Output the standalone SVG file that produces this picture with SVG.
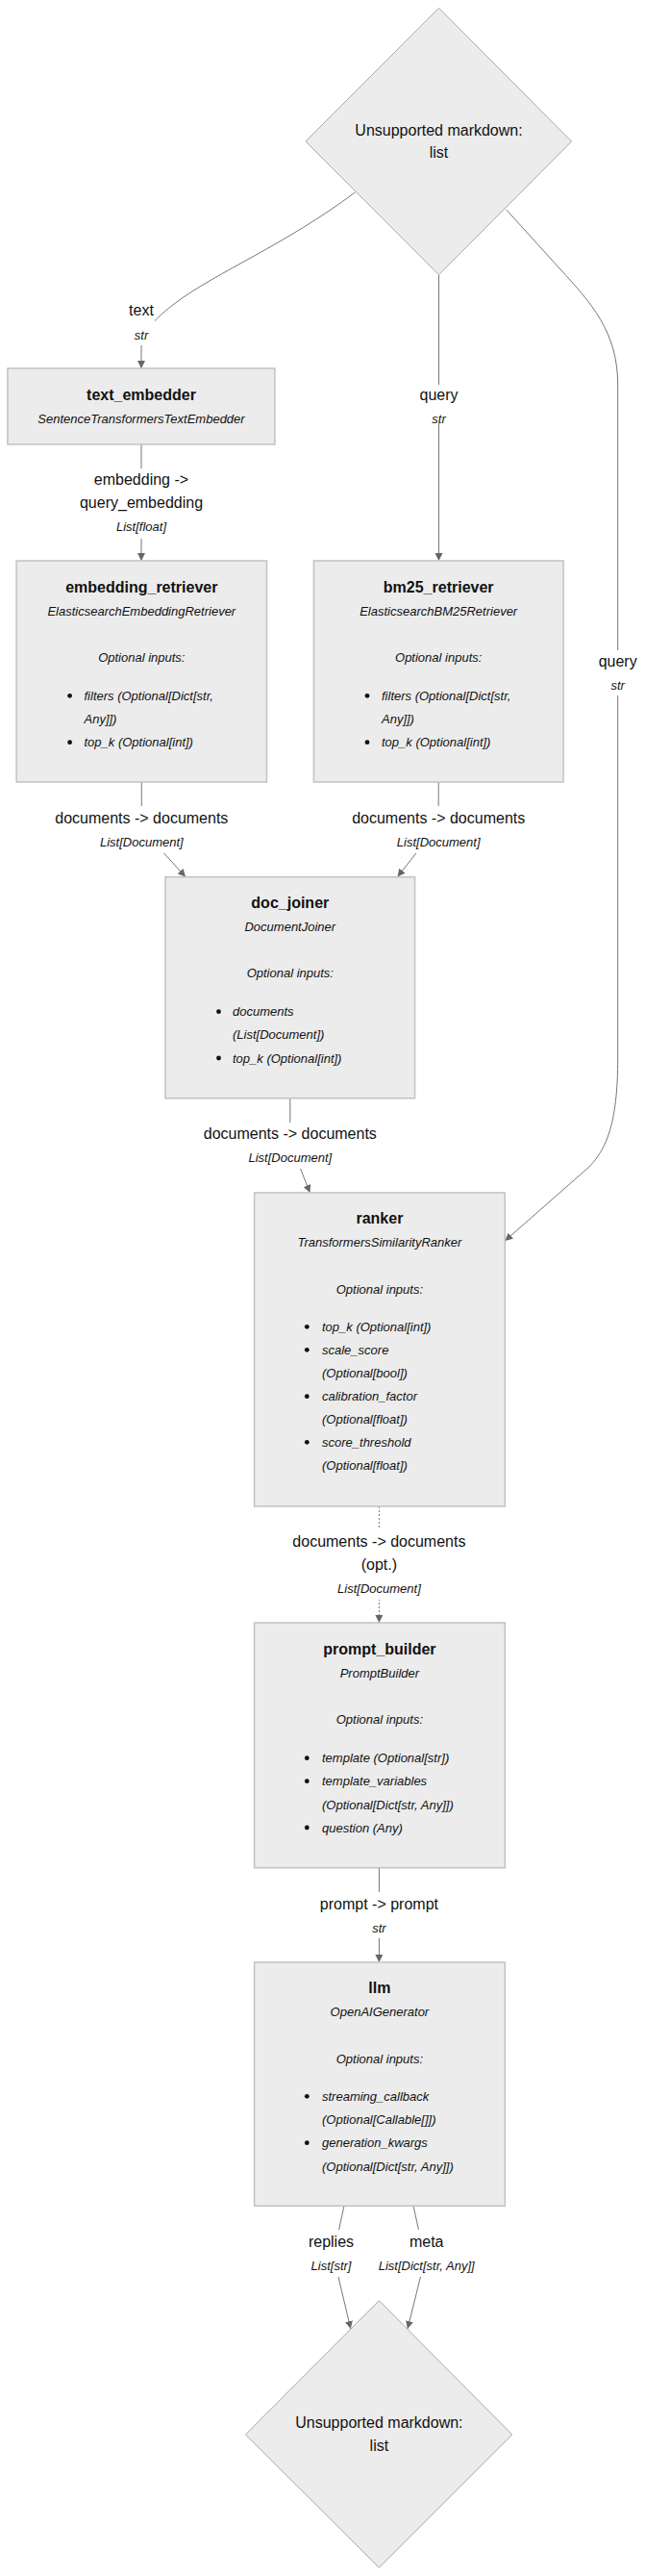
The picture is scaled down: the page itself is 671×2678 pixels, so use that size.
<svg xmlns="http://www.w3.org/2000/svg" width="671" height="2678" viewBox="0 0 671 2678">
<defs>
<style>
.node{fill:#ececec;stroke:#c2c2c2;stroke-width:1.5}
.dia{fill:#ececec;stroke:#a8a8a8;stroke-width:1}
.edge{fill:none;stroke:#777;stroke-width:1}
.dash{stroke-dasharray:2 2}
.lbg{fill:#fff;stroke:none}
text{font-family:"Liberation Sans",Arial,sans-serif;fill:#111}
.t{font-size:16px;text-anchor:middle}
.b{font-size:16px;font-weight:bold;text-anchor:middle}
.i{font-size:13px;font-style:italic;text-anchor:middle}
.il{font-size:13px;font-style:italic}
.dot{fill:#111}
</style>
<marker id="arr" viewBox="0 0 10 10" refX="10" refY="5" markerWidth="8" markerHeight="8" markerUnits="userSpaceOnUse" orient="auto">
<path d="M0,0 L10,5 L0,10 z" fill="#666"/>
</marker>
</defs>
<rect width="671" height="2678" fill="#fff"/>

<g id="connectors">
<path class="edge" d="M369.3,200 C295.8,255 226.8,282 182.4,315 C162.7,330 147,345 147,362 L147,383" marker-end="url(#arr)"/>
<path class="edge" d="M456.5,286 L456.5,583" marker-end="url(#arr)"/>
<path class="edge" d="M526.7,218 L583,280 C615,315 642.7,345 642.7,400 L642.7,1100 C642.7,1170 630,1195 613,1213 L525.3,1290" marker-end="url(#arr)"/>
<path class="edge" d="M147,462 L147,583" marker-end="url(#arr)"/>
<path class="edge" d="M147.3,813 L147.3,850 C147.3,870 157.8,875 170.6,887 L193,911.5" marker-end="url(#arr)"/>
<path class="edge" d="M456.2,813 L456.2,850 C456.2,870 445.7,875 432.9,887 L413.5,911.5" marker-end="url(#arr)"/>
<path class="edge" d="M301.8,1142 L301.8,1180 C301.8,1200 307.6,1205 312.6,1215 L322.4,1240" marker-end="url(#arr)"/>
<path class="edge dash" d="M394.4,1566 L394.4,1687" marker-end="url(#arr)"/>
<path class="edge" d="M394.4,1942 L394.4,2040" marker-end="url(#arr)"/>
<path class="edge" d="M358,2293 L351,2325 C349,2340 350,2360 352,2367 L364.8,2421" marker-end="url(#arr)"/>
<path class="edge" d="M430,2293 L437,2325 C439,2340 438,2360 437.5,2367 L424,2421" marker-end="url(#arr)"/>
</g>

<g id="edge-labels">
<g id="lbl-text"><rect class="lbg" x="131" y="311" width="30" height="48"/><text class="t" x="147" y="327.5">text</text><text class="i" x="147" y="352.5">str</text></g>
<g id="lbl-query1"><rect class="lbg" x="434" y="400" width="45" height="40"/><text class="t" x="456.5" y="416">query</text><text class="i" x="456.5" y="439.5">str</text></g>
<g id="lbl-query2"><rect class="lbg" x="620.7" y="676" width="44" height="47"/><text class="t" x="642.7" y="692.5">query</text><text class="i" x="642.7" y="716.5">str</text></g>
<g id="lbl-emb"><rect class="lbg" x="82" y="487" width="130" height="73"/><text class="t" x="147" y="504">embedding -&gt;</text><text class="t" x="147" y="528">query_embedding</text><text class="i" x="147" y="552">List[float]</text></g>
<g id="lbl-docs1"><rect class="lbg" x="57" y="838" width="180" height="49"/><text class="t" x="147.3" y="855.5">documents -&gt; documents</text><text class="i" x="147.3" y="880">List[Document]</text></g>
<g id="lbl-docs2"><rect class="lbg" x="366" y="838" width="180" height="49"/><text class="t" x="456.2" y="855.5">documents -&gt; documents</text><text class="i" x="456.2" y="880">List[Document]</text></g>
<g id="lbl-docs3"><rect class="lbg" x="212" y="1167" width="180" height="48"/><text class="t" x="301.8" y="1184">documents -&gt; documents</text><text class="i" x="301.8" y="1207.5">List[Document]</text></g>
<g id="lbl-docs4"><rect class="lbg" x="304" y="1590" width="181" height="73"/><text class="t" x="394.4" y="1608">documents -&gt; documents</text><text class="t" x="394.4" y="1632">(opt.)</text><text class="i" x="394.4" y="1656">List[Document]</text></g>
<g id="lbl-prompt"><rect class="lbg" x="325" y="1967" width="139" height="48"/><text class="t" x="394.4" y="1984.5">prompt -&gt; prompt</text><text class="i" x="394.4" y="2008.5">str</text></g>
<g id="lbl-replies"><rect class="lbg" x="319" y="2318" width="51" height="49"/><text class="t" x="344.5" y="2335.5">replies</text><text class="i" x="344.5" y="2360">List[str]</text></g>
<g id="lbl-meta"><rect class="lbg" x="388" y="2318" width="112" height="49"/><text class="t" x="443.7" y="2335.5">meta</text><text class="i" x="443.7" y="2360">List[Dict[str, Any]]</text></g>
</g>

<g id="input">
<polygon class="dia" points="456.5,8.3 594.6,147 456.5,285.7 318,147"/>
<text class="t" x="456.5" y="140.5">Unsupported markdown:</text>
<text class="t" x="456.5" y="164">list</text>
</g>

<g id="text_embedder">
<rect class="node" x="7.9" y="383" width="278" height="79"/>
<text class="b" x="147" y="416">text_embedder</text>
<text class="i" x="147" y="440">SentenceTransformersTextEmbedder</text>
</g>

<g id="embedding_retriever">
<rect class="node" x="17.1" y="583" width="260.4" height="230"/>
<text class="b" x="147.3" y="616">embedding_retriever</text>
<text class="i" x="147.3" y="640.3">ElasticsearchEmbeddingRetriever</text>
<text class="i" x="147.3" y="688">Optional inputs:</text>
<circle class="dot" cx="72.6" cy="723.3" r="2.4"/>
<text class="il" x="87.5" y="728">filters (Optional[Dict[str,</text>
<text class="il" x="87.5" y="752.3">Any]])</text>
<circle class="dot" cx="72.6" cy="771.7" r="2.4"/>
<text class="il" x="87.5" y="776.3">top_k (Optional[int])</text>
</g>

<g id="bm25_retriever">
<rect class="node" x="326.4" y="583" width="259.7" height="230"/>
<text class="b" x="456.2" y="616">bm25_retriever</text>
<text class="i" x="456.2" y="640.3">ElasticsearchBM25Retriever</text>
<text class="i" x="456.2" y="688">Optional inputs:</text>
<circle class="dot" cx="382" cy="723.3" r="2.4"/>
<text class="il" x="397" y="728">filters (Optional[Dict[str,</text>
<text class="il" x="397" y="752.3">Any]])</text>
<circle class="dot" cx="382" cy="771.7" r="2.4"/>
<text class="il" x="397" y="776.3">top_k (Optional[int])</text>
</g>

<g id="doc_joiner">
<rect class="node" x="172" y="911.7" width="259.6" height="230"/>
<text class="b" x="301.8" y="943.8">doc_joiner</text>
<text class="i" x="301.8" y="968">DocumentJoiner</text>
<text class="i" x="301.8" y="1016.3">Optional inputs:</text>
<circle class="dot" cx="227.5" cy="1051.7" r="2.4"/>
<text class="il" x="242" y="1056.3">documents</text>
<text class="il" x="242" y="1080.3">(List[Document])</text>
<circle class="dot" cx="227.5" cy="1100" r="2.4"/>
<text class="il" x="242" y="1104.6">top_k (Optional[int])</text>
</g>

<g id="ranker">
<rect class="node" x="264.6" y="1240" width="260.7" height="326"/>
<text class="b" x="394.9" y="1272.2">ranker</text>
<text class="i" x="394.9" y="1296.3">TransformersSimilarityRanker</text>
<text class="i" x="394.9" y="1344.6">Optional inputs:</text>
<circle class="dot" cx="319.3" cy="1379.3" r="2.4"/>
<text class="il" x="335" y="1383.9">top_k (Optional[int])</text>
<circle class="dot" cx="319.3" cy="1403.3" r="2.4"/>
<text class="il" x="335" y="1407.9">scale_score</text>
<text class="il" x="335" y="1431.9">(Optional[bool])</text>
<circle class="dot" cx="319.3" cy="1451.7" r="2.4"/>
<text class="il" x="335" y="1456.3">calibration_factor</text>
<text class="il" x="335" y="1480.3">(Optional[float])</text>
<circle class="dot" cx="319.3" cy="1499.3" r="2.4"/>
<text class="il" x="335" y="1503.9">score_threshold</text>
<text class="il" x="335" y="1527.9">(Optional[float])</text>
</g>

<g id="prompt_builder">
<rect class="node" x="264.6" y="1687" width="260.7" height="254.7"/>
<text class="b" x="394.9" y="1719.8">prompt_builder</text>
<text class="i" x="394.9" y="1743.9">PromptBuilder</text>
<text class="i" x="394.9" y="1792.3">Optional inputs:</text>
<circle class="dot" cx="319.3" cy="1827.7" r="2.4"/>
<text class="il" x="335" y="1832.3">template (Optional[str])</text>
<circle class="dot" cx="319.3" cy="1851.7" r="2.4"/>
<text class="il" x="335" y="1856.3">template_variables</text>
<text class="il" x="335" y="1880.6">(Optional[Dict[str, Any]])</text>
<circle class="dot" cx="319.3" cy="1900" r="2.4"/>
<text class="il" x="335" y="1904.6">question (Any)</text>
</g>

<g id="llm">
<rect class="node" x="264.6" y="2040" width="260.7" height="253.3"/>
<text class="b" x="394.9" y="2072.2">llm</text>
<text class="i" x="394.9" y="2096.3">OpenAIGenerator</text>
<text class="i" x="394.9" y="2144.6">Optional inputs:</text>
<circle class="dot" cx="319.3" cy="2179.3" r="2.4"/>
<text class="il" x="335" y="2183.9">streaming_callback</text>
<text class="il" x="335" y="2207.9">(Optional[Callable[]])</text>
<circle class="dot" cx="319.3" cy="2227.7" r="2.4"/>
<text class="il" x="335" y="2232.3">generation_kwargs</text>
<text class="il" x="335" y="2257.3">(Optional[Dict[str, Any]])</text>
</g>

<g id="output">
<polygon class="dia" points="394.4,2391.7 532.7,2531 394.4,2669.3 255.4,2531"/>
<text class="t" x="394.4" y="2524">Unsupported markdown:</text>
<text class="t" x="394.4" y="2548">list</text>
</g>
</svg>
